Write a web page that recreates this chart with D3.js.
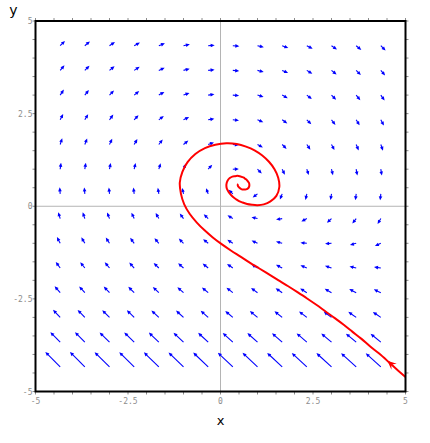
<!DOCTYPE html>
<html><head><meta charset="utf-8">
<script src="https://cdn.jsdelivr.net/npm/d3@7"></script>
<style>html,body{margin:0;padding:0;background:#fff;}svg{display:block;}</style>
</head><body>
<svg id="chart" width="430" height="443"></svg>
<script>
// ---- data ----
const gridX = [-4.333, -3.667, -3, -2.333, -1.667, -1, -0.333, 0.333, 1, 1.667, 2.333, 3, 3.667, 4.333];
const gridY = [4.333, 3.667, 3, 2.333, 1.667, 1, 0.333, -0.333, -1, -1.667, -2.333, -3, -3.667, -4.333];
// dx/dt at each grid row (same across the row)
const fieldU = [4.32, 3.64, 2.95, 2.24, 1.48, 0.63, -0.38, -1.73, -3.72, -6.96, -12.64, -23.09, -42.79, -80.53];
// dy/dt at each grid cell, rows follow gridY, columns follow gridX
const fieldV = [
  [4.35, 3.68, 3.01, 2.35, 1.68, 1.01, 0.35, -0.32, -0.99, -1.65, -2.32, -2.99, -3.65, -4.32],
  [4.36, 3.69, 3.03, 2.36, 1.69, 1.03, 0.36, -0.31, -0.97, -1.64, -2.31, -2.97, -3.64, -4.31],
  [4.38, 3.72, 3.05, 2.38, 1.72, 1.05, 0.38, -0.28, -0.95, -1.62, -2.28, -2.95, -3.62, -4.28],
  [4.43, 3.76, 3.10, 2.43, 1.76, 1.10, 0.43, -0.24, -0.90, -1.57, -2.24, -2.90, -3.57, -4.24],
  [4.52, 3.86, 3.19, 2.52, 1.86, 1.19, 0.52, -0.14, -0.81, -1.48, -2.14, -2.81, -3.48, -4.14],
  [4.70, 4.03, 3.37, 2.70, 2.03, 1.37, 0.70, 0.03, -0.63, -1.30, -1.97, -2.63, -3.30, -3.97],
  [5.05, 4.38, 3.72, 3.05, 2.38, 1.72, 1.05, 0.38, -0.28, -0.95, -1.62, -2.28, -2.95, -3.62],
  [5.73, 5.06, 4.40, 3.73, 3.06, 2.40, 1.73, 1.06, 0.40, -0.27, -0.94, -1.60, -2.27, -2.94],
  [7.05, 6.38, 5.72, 5.05, 4.38, 3.72, 3.05, 2.38, 1.72, 1.05, 0.38, -0.28, -0.95, -1.62],
  [9.63, 8.96, 8.29, 7.63, 6.96, 6.29, 5.63, 4.96, 4.29, 3.63, 2.96, 2.29, 1.63, 0.96],
  [14.64, 13.98, 13.31, 12.64, 11.98, 11.31, 10.64, 9.98, 9.31, 8.64, 7.98, 7.31, 6.64, 5.98],
  [24.42, 23.76, 23.09, 22.42, 21.76, 21.09, 20.42, 19.76, 19.09, 18.42, 17.76, 17.09, 16.42, 15.76],
  [43.45, 42.79, 42.12, 41.45, 40.79, 40.12, 39.45, 38.79, 38.12, 37.45, 36.79, 36.12, 35.45, 34.79],
  [80.53, 79.87, 79.20, 78.53, 77.87, 77.20, 76.53, 75.87, 75.20, 74.53, 73.87, 73.20, 72.53, 71.87]
];
// trajectory (red curve)
const trajX = [5.00, 4.76, 4.53, 4.28, 4.04, 3.81, 3.57, 3.33, 3.09, 2.84, 2.59, 2.34, 2.08, 1.83,
  1.57, 1.31, 1.05, 0.80, 0.54, 0.29, 0.04, -0.20, -0.43, -0.64, -0.83, -0.98, -1.07, -1.10,
  -1.03, -0.89, -0.68, -0.42, -0.14, 0.16, 0.44, 0.69, 0.92, 1.13, 1.31, 1.46, 1.56, 1.59, 1.51,
  1.35, 1.17, 1.00, 0.85, 0.72, 0.60, 0.50, 0.42, 0.34, 0.27, 0.21, 0.17, 0.16, 0.19, 0.25, 0.32,
  0.40, 0.46, 0.52, 0.58, 0.63, 0.67, 0.71, 0.74, 0.77, 0.78, 0.77, 0.74, 0.71, 0.67, 0.63,
  0.59, 0.55, 0.52, 0.49, 0.47, 0.47, 0.48];
const trajY = [-4.61, -4.40, -4.19, -3.97, -3.78, -3.58, -3.39, -3.20, -3.02, -2.84, -2.66, -2.49, -2.32, -2.16,
  -2.00, -1.84, -1.68, -1.53, -1.36, -1.20, -1.03, -0.85, -0.65, -0.44, -0.21, 0.05, 0.34, 0.64,
  0.93, 1.19, 1.41, 1.57, 1.66, 1.70, 1.68, 1.61, 1.51, 1.37, 1.20, 1.00, 0.77, 0.52, 0.28,
  0.13, 0.05, 0.03, 0.04, 0.06, 0.10, 0.14, 0.19, 0.25, 0.32, 0.40, 0.48, 0.59, 0.69, 0.76, 0.80,
  0.81, 0.82, 0.81, 0.79, 0.77, 0.74, 0.71, 0.67, 0.63, 0.57, 0.52, 0.48, 0.46, 0.45, 0.45,
  0.45, 0.47, 0.49, 0.52, 0.55, 0.59, 0.60];
const startIndex = 2; // initial point (arrow head)
const tickValues = [-5, -4.5, -4, -3.5, -3, -2.5, -2, -1.5, -1, -0.5, 0, 0.5, 1, 1.5, 2, 2.5, 3, 3.5, 4, 4.5, 5];
const tickLabels = ["-5", "-2.5", "0", "2.5", "5"];
const labelValues = [-5, -2.5, 0, 2.5, 5];

// ---- drawing ----
const svg = d3.select("#chart");
const L = 35.5, R = 405.5, T = 21, B = 391.5;
const x = d3.scaleLinear().domain([-5, 5]).range([L, R]);
const y = d3.scaleLinear().domain([-5, 5]).range([B, T]);

svg.append("defs").append("clipPath").attr("id", "clip")
  .append("rect").attr("x", L).attr("y", T).attr("width", R - L).attr("height", B - T);

// zero grid lines
svg.append("line").attr("x1", x(0)).attr("x2", x(0)).attr("y1", T).attr("y2", B)
  .attr("stroke", "#b4b4b4").attr("stroke-width", 1);
svg.append("line").attr("x1", L).attr("x2", R).attr("y1", y(0)).attr("y2", y(0))
  .attr("stroke", "#b4b4b4").attr("stroke-width", 1);

// vector field
const cells = [];
gridY.forEach((gy, j) => gridX.forEach((gx, i) => cells.push({gx, gy, u: fieldU[j], v: fieldV[j][i]})));
const mags = cells.map(c => Math.hypot(c.u, c.v));
const lenScale = d3.scaleLinear().domain(d3.extent(mags)).range([6, 21]);
const fg = svg.append("g").attr("clip-path", "url(#clip)");
cells.forEach(c => {
  const m = Math.hypot(c.u, c.v);
  const len = lenScale(m);
  const dxp = c.u / m, dyp = -c.v / m;
  const x0 = x(c.gx), y0 = y(c.gy);
  const x1 = x0 + dxp * len, y1 = y0 + dyp * len;
  const hl = 4, hw = 1.8;
  fg.append("line").attr("x1", x0).attr("y1", y0)
    .attr("x2", x1 - dxp * hl * 0.6).attr("y2", y1 - dyp * hl * 0.6)
    .attr("stroke", "#0000ff").attr("stroke-width", 1.1);
  const bx = x1 - dxp * hl, by = y1 - dyp * hl;
  fg.append("path")
    .attr("d", `M${x1},${y1}L${bx - dyp * hw},${by + dxp * hw}L${bx + dyp * hw},${by - dxp * hw}Z`)
    .attr("fill", "#0000ff");
});

// trajectory
const pts = trajX.map((v, i) => [v, trajY[i]]);
const tg = svg.append("g").attr("clip-path", "url(#clip)");
tg.append("path").datum(pts)
  .attr("d", d3.line().x(d => x(d[0])).y(d => y(d[1])).curve(d3.curveCatmullRom))
  .attr("fill", "none").attr("stroke", "#ff0000").attr("stroke-width", 2)
  .attr("stroke-linejoin", "round");
{
  const p = pts[startIndex], q = pts[startIndex + 1];
  const px = x(p[0]), py = y(p[1]);
  let ux = x(q[0]) - px, uy = y(q[1]) - py;
  const n = Math.hypot(ux, uy); ux /= n; uy /= n;
  const tx = px + ux * 1, ty = py + uy * 1;
  const hl = 9, hw = 4;
  const bx = tx - ux * hl, by = ty - uy * hl;
  tg.append("path")
    .attr("d", `M${tx},${ty}L${bx - uy * hw},${by + ux * hw}L${tx - ux * hl * 0.6},${ty - uy * hl * 0.6}L${bx + uy * hw},${by - ux * hw}Z`)
    .attr("fill", "#ff0000");
}

// ticks on all four sides
const tk = svg.append("g").attr("stroke", "#8c8c8c").attr("stroke-width", 1);
tickValues.forEach(v => {
  tk.append("line").attr("x1", x(v)).attr("x2", x(v)).attr("y1", T - 3).attr("y2", T);
  tk.append("line").attr("x1", x(v)).attr("x2", x(v)).attr("y1", B).attr("y2", B + 3);
  tk.append("line").attr("x1", L - 3).attr("x2", L).attr("y1", y(v)).attr("y2", y(v));
  tk.append("line").attr("x1", R).attr("x2", R + 3).attr("y1", y(v)).attr("y2", y(v));
});

// tick labels
const lab = svg.append("g").attr("font-family", "'DejaVu Sans Mono', monospace")
  .attr("font-size", 8).attr("fill", "#8c8c8c");
labelValues.forEach((v, i) => {
  lab.append("text").attr("x", x(v)).attr("y", B + 12).attr("text-anchor", "middle").text(tickLabels[i]);
  lab.append("text").attr("x", L - 3).attr("y", y(v) + 3).attr("text-anchor", "end").text(tickLabels[i]);
});

// frame
svg.append("rect").attr("x", L).attr("y", T).attr("width", R - L).attr("height", B - T)
  .attr("fill", "none").attr("stroke", "#000").attr("stroke-width", 2);

// axis titles
svg.append("text").attr("x", 220.5).attr("y", 425).attr("text-anchor", "middle")
  .attr("font-family", "'DejaVu Sans', sans-serif").attr("font-size", 13).text("x");
svg.append("text").attr("x", 13.5).attr("y", 15).attr("text-anchor", "middle")
  .attr("font-family", "'DejaVu Sans', sans-serif").attr("font-size", 14).text("y");
</script>
</body></html>
